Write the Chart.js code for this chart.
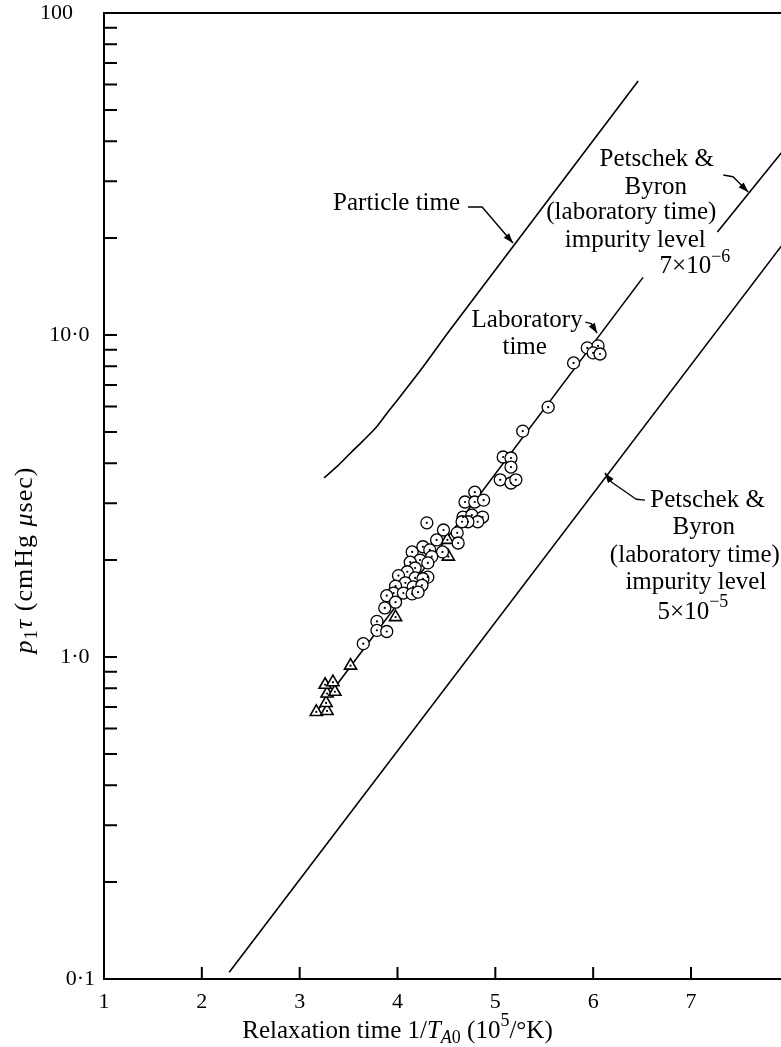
<!DOCTYPE html>
<html lang="en">
<head>
<meta charset="UTF-8">
<title>Relaxation time</title>
<style>
  body { margin: 0; background: #fff; }
  canvas { display: block; }
</style>
</head>
<body>
<canvas id="chart" width="781" height="1047"></canvas>
<script src="https://cdn.jsdelivr.net/npm/chart.js"></script>
<script>
// values
const circleX = [5.94, 6.05, 6.00, 6.07, 5.80, 5.54, 5.28, 5.08, 5.16, 5.16, 5.05, 5.16, 5.21,
  4.79, 4.69, 4.79, 4.88, 4.67, 4.76, 4.87, 4.82, 4.72, 4.66, 4.30, 4.47, 4.61, 4.40, 4.62,
  4.26, 4.46, 4.15, 4.33, 4.23, 4.13, 4.35, 4.31, 4.18, 4.10, 4.31, 4.01, 4.18, 4.26,
  4.08, 4.16, 4.25, 3.98, 3.96, 3.89, 4.06, 4.15, 4.21, 3.98, 3.87, 3.79, 3.79, 3.89, 3.65];
const circleY = [9.12, 9.25, 8.80, 8.73, 8.19, 5.97, 5.03, 4.18, 4.15, 3.89, 3.55, 3.47, 3.55,
  3.25, 3.03, 3.03, 3.07, 2.72, 2.76, 2.72, 2.63, 2.63, 2.63, 2.61, 2.48, 2.43, 2.31, 2.26,
  2.20, 2.12, 2.12, 2.15, 2.00, 1.97, 2.05, 1.96, 1.89, 1.84, 1.77, 1.79, 1.76, 1.75,
  1.70, 1.65, 1.67, 1.66, 1.58, 1.55, 1.58, 1.57, 1.59, 1.48, 1.42, 1.29, 1.21, 1.20, 1.10];
const triangleX = [3.17, 3.28, 3.27, 3.28, 3.36, 3.26, 3.34, 3.52, 3.98, 4.51, 4.52];
const triangleY = [0.675, 0.68, 0.72, 0.77, 0.78, 0.82, 0.835, 0.94, 1.33, 2.31, 2.05];

const particleX = [3.25, 3.38, 3.52, 3.65, 3.79, 3.89, 4.00, 4.26, 4.54, 6.46];
const particleY = [3.60, 3.90, 4.30, 4.70, 5.20, 5.70, 6.28, 7.95, 10.4, 61.5];
const labLineX = [3.17, 6.51];
const labLineY = [0.675, 15.1];
const pb7X = [7.27, 7.93];
const pb7Y = [20.9, 37.0];
const pb5X = [2.28, 7.93];
const pb5Y = [0.105, 19.0];

const xTicks = [1, 2, 3, 4, 5, 6, 7];
const yTickValues = [0.1, 1, 10, 100];
const yTickLabels = ['0·1', '1·0 ', '10·0 ', '100    '];

const FONT = '"Liberation Serif", "DejaVu Serif", serif';

// annotation text, anchored in data units
const notes = [
  { x: 4.64, y: 25.7, align: 'right', parts: [['Particle time', 'n']] },
  { x: 5.325, y: 11.1, parts: [['Laboratory', 'n']] },
  { x: 5.30, y: 9.12, parts: [['time', 'n']] },
  { x: 6.65, y: 34.97, parts: [['Petschek &', 'n']] },
  { x: 6.64, y: 28.8, parts: [['Byron', 'n']] },
  { x: 6.39, y: 24.1, parts: [['(laboratory time)', 'n']] },
  { x: 6.43, y: 19.7, parts: [['impurity level', 'n']] },
  { x: 7.04, y: 16.3, parts: [['7\u00d710', 'n'], ['\u22126', 'sup']] },
  { x: 7.17, y: 3.07, parts: [['Petschek &', 'n']] },
  { x: 7.13, y: 2.52, parts: [['Byron', 'n']] },
  { x: 7.04, y: 2.07, parts: [['(laboratory time)', 'n']] },
  { x: 7.05, y: 1.70, parts: [['impurity level', 'n']] },
  { x: 7.02, y: 1.38, parts: [['5\u00d710', 'n'], ['\u22125', 'sup']] }
];
const leaders = [
  [[4.72, 24.97], [4.865, 24.97], [5.18, 19.3]],
  [[5.92, 10.97], [5.98, 10.85], [6.04, 10.14]],
  [[7.33, 31.4], [7.43, 31.0], [7.585, 27.8]],
  [[6.53, 3.07], [6.44, 3.09], [6.19, 3.49], [6.12, 3.73]]
];

function zip(xs, ys) {
  return xs.map((x, i) => ({ x: x, y: ys[i] }));
}

function drawRich(ctx, parts, x, y, size, align) {
  const small = Math.round(size * 0.72);
  const fonts = {
    n: size + 'px ' + FONT,
    i: 'italic ' + size + 'px ' + FONT,
    sup: small + 'px ' + FONT,
    sub: small + 'px ' + FONT,
    subi: 'italic ' + small + 'px ' + FONT
  };
  const shift = { n: 0, i: 0, sup: -size * 0.38, sub: size * 0.28, subi: size * 0.28 };
  let total = 0;
  parts.forEach(p => { ctx.font = fonts[p[1]]; total += ctx.measureText(p[0]).width; });
  let cx = x - total / 2;
  if (align === 'right') cx = x - total;
  if (align === 'left') cx = x;
  ctx.textBaseline = 'middle';
  ctx.textAlign = 'left';
  parts.forEach(p => {
    ctx.font = fonts[p[1]];
    ctx.fillText(p[0], cx, y + shift[p[1]]);
    cx += ctx.measureText(p[0]).width;
  });
}

const decorations = {
  id: 'decorations',
  afterDraw(chart) {
    const { ctx, chartArea: a } = chart;
    const xs = chart.scales.x, ys = chart.scales.y;
    ctx.save();
    ctx.strokeStyle = '#000';
    ctx.fillStyle = '#000';
    ctx.lineWidth = 2;

    ctx.beginPath();
    ctx.moveTo(a.left - 1, a.top);
    ctx.lineTo(a.right, a.top);
    ys.ticks.forEach(t => {
      const py = ys.getPixelForValue(t.value);
      ctx.moveTo(a.left, py);
      ctx.lineTo(a.left + 13, py);
    });
    xs.ticks.forEach(t => {
      const px = xs.getPixelForValue(t.value);
      ctx.moveTo(px, a.bottom);
      ctx.lineTo(px, a.bottom - 12);
    });
    ctx.stroke();

    notes.forEach(n => {
      drawRich(ctx, n.parts, xs.getPixelForValue(n.x), ys.getPixelForValue(n.y), 25, n.align);
    });

    ctx.lineWidth = 1.4;
    ctx.lineJoin = 'round';
    leaders.forEach(l => {
      const pts = l.map(p => [xs.getPixelForValue(p[0]), ys.getPixelForValue(p[1])]);
      ctx.beginPath();
      ctx.moveTo(pts[0][0], pts[0][1]);
      for (let i = 1; i < pts.length; i++) ctx.lineTo(pts[i][0], pts[i][1]);
      ctx.stroke();
      const p = pts[pts.length - 2], q = pts[pts.length - 1];
      const ang = Math.atan2(q[1] - p[1], q[0] - p[0]);
      ctx.beginPath();
      ctx.moveTo(q[0], q[1]);
      ctx.lineTo(q[0] - 10 * Math.cos(ang) + 3.5 * Math.sin(ang), q[1] - 10 * Math.sin(ang) - 3.5 * Math.cos(ang));
      ctx.lineTo(q[0] - 10 * Math.cos(ang) - 3.5 * Math.sin(ang), q[1] - 10 * Math.sin(ang) + 3.5 * Math.cos(ang));
      ctx.closePath();
      ctx.fill();
    });

    // axis titles
    drawRich(ctx, [['Relaxation time 1/', 'n'], ['T', 'i'], ['A', 'subi'], ['0', 'sub'],
      [' (10', 'n'], ['5', 'sup'], ['/\u00b0K)', 'n']], xs.getPixelForValue(4.0), a.bottom + 52, 25);
    ctx.translate(25, ys.getPixelForValue(2.0));
    ctx.rotate(-Math.PI / 2);
    ctx.letterSpacing = '1px';
    drawRich(ctx, [['p', 'i'], ['1', 'sub'], ['\u03c4', 'i'], [' (cmHg ', 'n'], ['\u03bc', 'i'], ['sec)', 'n']], 0, 0, 26);
    ctx.restore();
  }
};

const lineStyle = { showLine: true, pointRadius: 0, borderColor: '#000', borderWidth: 1.6, fill: false, order: 3 };

new Chart(document.getElementById('chart'), {
  type: 'scatter',
  data: {
    datasets: [
      Object.assign({ label: 'Particle time', data: zip(particleX, particleY), tension: 0.3 }, lineStyle),
      Object.assign({ label: 'Laboratory time', data: zip(labLineX, labLineY) }, lineStyle),
      Object.assign({ label: 'Petschek & Byron 7e-6', data: zip(pb7X, pb7Y) }, lineStyle),
      Object.assign({ label: 'Petschek & Byron 5e-5', data: zip(pb5X, pb5Y) }, lineStyle),
      {
        label: 'circles', data: zip(circleX, circleY), pointStyle: 'circle', pointRadius: 6,
        borderColor: '#000', backgroundColor: '#fff', borderWidth: 1.3, order: 2
      },
      {
        label: 'triangles', data: zip(triangleX, triangleY), pointStyle: 'triangle', pointRadius: 7,
        borderColor: '#000', backgroundColor: '#fff', borderWidth: 1.6, order: 2
      },
      {
        label: 'dots', data: zip(circleX, circleY).concat(zip(triangleX, triangleY)), pointRadius: 1.1,
        borderWidth: 0, backgroundColor: '#000', order: 1
      }
    ]
  },
  options: {
    responsive: false,
    animation: false,
    layout: { autoPadding: false, padding: { top: 13, right: 0, left: 0, bottom: 0 } },
    plugins: { legend: { display: false }, tooltip: { enabled: false } },
    scales: {
      x: {
        type: 'linear',
        min: 1,
        max: 7.92,
        afterBuildTicks: s => { s.ticks = xTicks.map(v => ({ value: v })); },
        afterFit: s => { s.height = 68; s.paddingLeft = 0; s.paddingRight = 0; },
        grid: { display: false },
        border: { display: true, color: '#000', width: 2 },
        ticks: { color: '#000', padding: 2, font: { family: FONT, size: 22 }, callback: v => String(v) }
      },
      y: {
        type: 'logarithmic',
        min: 0.1,
        max: 100,
        afterBuildTicks: s => {
          const t = [];
          [0.1, 1, 10].forEach(d => { for (let m = 1; m < 10; m++) t.push({ value: m * d }); });
          t.push({ value: 100 });
          s.ticks = t;
        },
        afterFit: s => { s.width = 104; s.paddingTop = 0; s.paddingBottom = 0; },
        grid: { display: false },
        border: { display: true, color: '#000', width: 2 },
        ticks: {
          color: '#000', padding: 1, autoSkip: false, font: { family: FONT, size: 22 },
          callback: v => {
            const i = yTickValues.findIndex(t => Math.abs(t - v) / t < 1e-6);
            return i >= 0 ? yTickLabels[i] : '';
          }
        }
      }
    }
  },
  plugins: [decorations]
});
</script>
</body>
</html>
